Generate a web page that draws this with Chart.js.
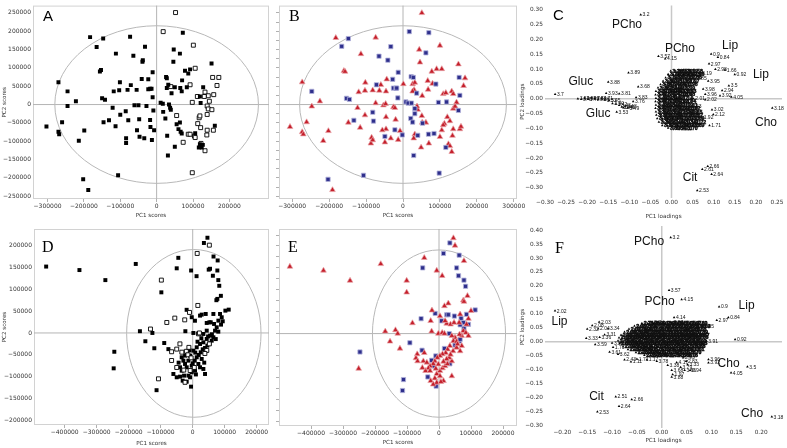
<!DOCTYPE html>
<html><head><meta charset="utf-8">
<script src="https://cdn.jsdelivr.net/npm/chart.js@4.4.1/dist/chart.umd.min.js"></script>
<style>html,body{margin:0;padding:0;background:#fff;width:787px;height:448px;overflow:hidden}canvas{position:absolute;left:0;top:0}</style>
</head><body>
<canvas id="cA" width="787" height="448"></canvas>
<canvas id="cB" width="787" height="448"></canvas>
<canvas id="cC" width="787" height="448"></canvas>
<canvas id="cD" width="787" height="448"></canvas>
<canvas id="cE" width="787" height="448"></canvas>
<canvas id="cF" width="787" height="448"></canvas>
<script>
// ---------- DATA ----------
// tick values
const scoreXTicksA = [-300000,-200000,-100000,0,100000,200000];
const scoreXTicksB = [-300000,-200000,-100000,0,100000,200000,300000];
const scoreYTicksA = [-250000,-200000,-150000,-100000,-50000,0,50000,100000,150000,200000,250000];
const scoreYMarksB = [-250000,-225000,-200000,-175000,-150000,-125000,-100000,-75000,-50000,-25000,0,25000,50000,75000,100000,125000,150000,175000,200000,225000,250000];
const scoreXTicksD = [-400000,-300000,-200000,-100000,0,100000,200000];
const scoreYTicksD = [-200000,-150000,-100000,-50000,0,50000,100000,150000,200000];
const scoreYMarksE = [-200000,-175000,-150000,-125000,-100000,-75000,-50000,-25000,0,25000,50000,75000,100000,125000,150000,175000,200000,225000];
const loadXTicksC = [-0.30,-0.25,-0.20,-0.15,-0.10,-0.05,0,0.05,0.10,0.15,0.20,0.25];
const loadYTicksC = [-0.30,-0.25,-0.20,-0.15,-0.10,-0.05,0,0.05,0.10,0.15,0.20,0.25,0.30];
const loadXTicksF = [-0.20,-0.15,-0.10,-0.05,0,0.05,0.10,0.15,0.20];
const loadYTicksF = [-0.30,-0.25,-0.20,-0.15,-0.10,-0.05,0,0.05,0.10,0.15,0.20,0.25,0.30,0.35,0.40];

// Panel A / B : PCA scores (first data set)
const aFilled = [[-303000,-60000],[-270000,61000],[-245000,36000],[-245000,-4000],[-222000,9000],[-270000,-74000],[-268000,-81000],[-260000,-48000],[-214000,-99000],[-199000,-71000],[-202000,-204000],[-188000,-233000],[-183000,184000],[-165000,157000],[-147000,180000],[-156000,90000],[-153000,94000],[-150000,17000],[-142000,13000],[-146000,-48000],[-131000,-43000],[-121000,-9000],[-118000,36000],[-112000,139000],[-113000,-59000],[-106000,-193000],[-103000,39000],[-101000,61000],[-100000,-28000],[-85000,-18000],[-84000,-92000],[-84000,-105000],[-80000,40000],[-78000,-43000],[-73000,185000],[-71000,53000],[-64000,133000],[-61000,-2000],[-55000,40000],[-54000,-70000],[-50000,-2000],[-47000,-88000],[-48000,-40000],[-41000,70000],[-39000,117000],[-38000,121000],[-34000,-92000],[-32000,158000],[-28000,-4000],[-23000,69000],[-23000,42000],[-18000,43000],[-18000,-42000],[-17000,-61000],[-14000,43000],[-13000,-97000],[-7000,-70000],[-11000,88000],[-11000,20000],[-9000,-16000],[11000,5000],[17000,2000],[18000,-20000],[24000,-38000],[26000,75000],[28000,72000],[32000,54000],[28000,45000],[29000,-85000],[31000,-139000],[34000,0],[37000,-9000],[39000,-14000],[41000,31000],[46000,117000],[47000,150000],[50000,47000],[50000,-115000],[55000,-54000],[60000,-67000],[64000,139000],[65000,45000],[69000,36000],[70000,66000],[72000,196000],[66000,-74000],[69000,-79000],[64000,-49000],[78000,92000],[83000,47000],[87000,85000],[92000,96000],[106000,-78000],[119000,-108000],[124000,-117000],[127000,-110000],[119000,22000],[121000,4000],[128000,47000],[151000,112000],[160000,-58000],[116000,-117000]];
const aOpen = [[52000,251000],[18000,199000],[101000,162000],[106000,99000],[92000,54000],[98000,6000],[39000,49000],[55000,-30000],[73000,-103000],[87000,-81000],[92000,-81000],[104000,-86000],[98000,-186000],[117000,-36000],[119000,-31000],[113000,-52000],[121000,-63000],[112000,22000],[133000,34000],[142000,24000],[145000,9000],[157000,27000],[154000,74000],[166000,52000],[171000,74000],[139000,-4000],[142000,-12000],[152000,-14000],[139000,-27000],[139000,-70000],[138000,-83000],[156000,-70000],[133000,-126000],[122000,-106000],[106000,-90000],[131000,22000]];
const bBlue = [[-148000,180000],[-166000,159000],[-33000,158000],[17000,199000],[70000,196000],[62000,141000],[-65000,132000],[-41000,121000],[-13000,88000],[-28000,69000],[22000,76000],[28000,74000],[-72000,54000],[-26000,45000],[-19000,45000],[-17000,45000],[37000,31000],[89000,56000],[-247000,36000],[-153000,17000],[-145000,14000],[-14000,18000],[8000,7000],[14000,4000],[23000,4000],[32000,-11000],[32000,-25000],[96000,6000],[118000,7000],[152000,74000],[154000,25000],[150000,-16000],[-82000,-21000],[-80000,-45000],[-133000,-43000],[21000,-38000],[26000,-48000],[53000,-51000],[-22000,-69000],[-49000,-87000],[-2000,-83000],[40000,-84000],[69000,-81000],[84000,-79000],[116000,-117000],[29000,-139000],[98000,-187000],[-107000,-193000],[-203000,-204000]];
const bRed = [[51000,250000],[-182000,182000],[-74000,183000],[100000,161000],[-114000,138000],[44000,150000],[46000,115000],[-160000,92000],[-157000,90000],[78000,90000],[91000,97000],[105000,97000],[150000,110000],[168000,72000],[164000,51000],[-273000,61000],[-225000,9000],[-247000,-5000],[-261000,-48000],[-306000,-61000],[-273000,-75000],[-270000,-81000],[-216000,-99000],[-202000,-72000],[-191000,-233000],[-123000,-9000],[-120000,34000],[-103000,38000],[-102000,60000],[-82000,39000],[-64000,38000],[-60000,54000],[-46000,36000],[-44000,69000],[-74000,4000],[-53000,-2000],[-47000,2000],[-26000,-7000],[-22000,-9000],[1000,56000],[26000,56000],[30000,40000],[26000,36000],[32000,60000],[52000,24000],[67000,65000],[68000,41000],[80000,57000],[109000,29000],[116000,32000],[132000,36000],[136000,29000],[145000,6000],[136000,-11000],[141000,-5000],[120000,-34000],[112000,-52000],[109000,-56000],[127000,-45000],[136000,-67000],[134000,-85000],[154000,-67000],[157000,-60000],[-148000,-49000],[-103000,-29000],[-46000,-34000],[-20000,-41000],[-46000,-67000],[-116000,-63000],[-85000,-90000],[-87000,-106000],[-82000,-97000],[-56000,-70000],[-33000,-92000],[-49000,-103000],[-13000,-96000],[-8000,-72000],[32000,-81000],[29000,-92000],[51000,-31000],[52000,-49000],[62000,-49000],[49000,-117000],[70000,-106000],[100000,-88000],[123000,-108000],[127000,-113000],[132000,-129000],[105000,-70000],[40000,-14000],[38000,-5000]];

// Panel D / E : PCA scores (second data set)
const dFilled = [[-458000,152000],[-354000,144000],[-273000,121000],[-178000,158000],[-98000,93000],[-165000,4000],[-148000,-19000],[-126000,0],[-120000,-35000],[-245000,-43000],[-247000,-81000],[-89000,-23000],[-113000,-131000],[-45000,172000],[-50000,148000],[-5000,143000],[12000,130000],[35000,206000],[46000,218000],[54000,147000],[50000,145000],[63000,131000],[65000,175000],[78000,166000],[77000,143000],[80000,121000],[83000,108000],[88000,85000],[77000,78000],[74000,75000],[-19000,53000],[-3000,36000],[7000,28000],[-23000,4000],[-76000,-37000],
 [22900,39700],[28100,42000],[40600,43500],[64600,43500],[85400,43500],[102100,51100],[112500,53400],[43800,22900],[52100,24400],[56300,24400],[80200,28200],[90600,35900],[93800,26700],[88500,19100],[66700,20600],[75000,13000],[69800,5300],[43800,5300],[33300,-2300],[2100,0],[64600,-9900],[59400,-17600],[52100,-23700],[45800,-29000],[38500,-34400],[31300,-37400],[25000,-44300],[18800,-50400],[12500,-55700],[6300,-63400],[0,-69500],[-3100,-74800],[-13500,-97700],[-5200,-122900],[-34400,-55700],[-29200,-63400],[-24000,-71000],[-39600,-78600],[-34400,-86300],[-27100,-97700],[-39600,-100000],[-50000,-101500],[-8300,-101500],[22900,-78600],[33300,-82400],[38500,-93900],[-18800,-44300],[-8300,-51900],[2100,-40500],[12500,-32800],[22900,-25200],[33300,-21400],[43800,-13700],[54200,-6100],[-24000,-51900],[-13500,-63400],[7300,-86300],[17700,-71000],[28100,-59500],[-18800,-78600],[-3100,-90100],[-60400,-93900],[-31300,-109200],[-18800,-111500],
 [60000,-3000],[72000,-14000],[80000,3000],[48000,-8000],[27000,-12000],[15000,-20000],[8000,-45000],[-10000,-40000],[36000,-68000],[10000,-95000],[-44000,-68000]];
const dOpen = [[14000,182000],[52000,201000],[-98000,121000],[-81000,24000],[-56000,34000],[-25000,30000],[-10000,47000],[16000,63000],[-132000,9000],[-40000,-25000],[-50000,-37000],[-66000,-43000],[-66000,-63000],[-50000,-79000],[-107000,-105000],[-24000,-113000],[18000,-2000],[21000,0],[52000,-25000],[44000,-40000],[38000,-47000],[-20000,-42000],[-15000,-50000],[-5000,-57000],[-28000,-85000],[5000,-79000],[-8000,-86000],[-34000,-44000],[-12000,-33000]];
const eBlue = [[34000,207000],[14000,183000],[63000,179000],[-51000,150000],[55000,150000],[61000,132000],[78000,122000],[83000,108000],[-12000,46000],[-56000,34000],[8000,29000],[24000,43000],[29000,43000],[48000,40000],[69000,35000],[76000,25000],[78000,12000],[86000,44000],[92000,21000],[113000,54000],[32000,0],[50000,-26000],[64000,-17000],[66000,-13000],[17000,-34000],[-10000,-51000],[-23000,-61000],[-18000,-74000],[-53000,-38000],[-91000,-21000],[-247000,-42000],[34000,-69000],[-111000,-105000],[-35000,-99000],[-114000,-130000],[-9000,-120000],[66000,20000]];
const eRed = [[-466000,153000],[-361000,144000],[-278000,121000],[-182000,159000],[-46000,173000],[-7000,144000],[10000,132000],[45000,218000],[50000,201000],[78000,166000],[-101000,121000],[-101000,94000],[89000,86000],[76000,76000],[78000,73000],[100000,52000],[29000,69000],[17000,63000],[-22000,53000],[-26000,29000],[-83000,24000],[-168000,5000],[-136000,8000],[-129000,0],[-153000,-18000],[-122000,-34000],[-251000,-80000],[-23000,5000],[-2000,0],[10000,2000],[17000,0],[24000,23000],[36000,21000],[47000,25000],[63000,25000],[66000,44000],[76000,6000],[84000,2000],[92000,-5000],[71000,-5000],[64000,-2000],[50000,-9000],[40000,-5000],[45000,-17000],[55000,-18000],[34000,-28000],[27000,-36000],[21000,-44000],[11000,-47000],[3000,-51000],[-5000,-55000],[-13000,-63000],[-18000,-69000],[-28000,-74000],[-33000,-79000],[-42000,-85000],[-46000,-44000],[-68000,-47000],[-72000,-56000],[-67000,-63000],[-49000,-63000],[-52000,-78000],[-28000,-85000],[-7000,-92000],[3000,-85000],[11000,-79000],[19000,-74000],[26000,-69000],[40000,-63000],[32000,-55000],[3000,-97000],[-13000,-102000],[-26000,-108000],[-7000,-112000],[-18000,-116000],[14000,-108000],[40000,-97000],[55000,-32000],[66000,-40000],[71000,-28000],[86000,21000],[92000,34000],[19000,29000],[3000,40000],
 [58000,-24000],[44000,-40000],[36000,-48000],[24000,-58000],[14000,-64000],[-2000,-70000],[-10000,-80000],[-38000,-66000],[6000,-110000]];

// Panel C : PC loadings (first data set) [x, y, label]
const cLabeled = [[-0.073,0.284,"3.2"],[-0.031,0.1435,"3.57"],[-0.015,0.135,"4.15"],[0.094,0.151,"0.9"],[0.110,0.140,"0.84"],[0.089,0.118,"2.97"],[0.104,0.100,"2.98"],[0.127,0.097,"1.66"],[0.150,0.082,"0.92"],[-0.102,0.088,"3.89"],[-0.150,0.057,"3.88"],[-0.079,0.041,"3.68"],[-0.276,0.015,"3.7"],[-0.155,0.019,"3.93"],[-0.124,0.017,"3.81"],[-0.084,0.004,"3.83"],[-0.091,-0.009,"3.76"],[-0.114,-0.030,"3.41"],[-0.130,-0.045,"3.53"],[0.239,-0.031,"3.18"],[0.086,-0.228,"2.66"],[0.073,-0.238,"2.61"],[0.095,-0.255,"2.64"],[0.061,-0.310,"2.53"],[0.136,0.044,"3.5"],[0.120,0.028,"2.94"],[0.115,0.010,"3.92"],[0.142,0.006,"4.05"],[0.080,0.015,"3.96"],[0.075,0.033,"3.98"],[0.056,0.068,"3.85"],[0.068,0.087,"3.19"],[0.087,0.060,"3.95"],[0.080,-0.003,"2.02"],[0.052,0.000,"2.01"],[0.044,-0.026,"1.63"],[0.096,-0.037,"3.02"],[0.099,-0.053,"2.12"],[0.072,-0.064,"1.92"],[0.090,-0.090,"1.71"]];
const cGluc = [[-0.222,0.000,"3.50"],[-0.214,-0.002,"3.47"],[-0.206,0.002,"3.90"],[-0.198,-0.001,"3.72"],[-0.190,0.003,"3.74"],[-0.182,0.001,"3.84"],[-0.174,-0.001,"3.86"],[-0.166,0.000,"3.71"],[-0.158,-0.004,"3.51"],[-0.148,-0.006,"3.45"],[-0.140,-0.016,"3.40"],[-0.132,-0.018,"3.42"],[-0.124,-0.022,"3.43"],[-0.118,-0.028,"3.44"],[-0.110,-0.026,"3.48"],[-0.104,-0.031,"3.49"]];
const cBlob = [
 [0.094,[-0.002,0.010,0.022,0.034,0.046],"3.26 3.65 1.30 3.19 1.58"],
 [0.083,[-0.008,0.004,0.016,0.028,0.040,0.050],"3.73 2.23 0.88 3.64 1.28 2.96"],
 [0.071,[-0.014,-0.002,0.010,0.022,0.034,0.044],"3.79 1.33 3.62 2.05 1.27 0.86"],
 [0.060,[-0.020,-0.008,0.004,0.016,0.028,0.038],"3.80 2.07 3.61 1.35 2.27 3.97"],
 [0.048,[-0.026,-0.014,-0.002,0.010,0.022,0.034],"3.84 3.72 2.46 1.39 4.11 0.96"],
 [0.037,[-0.032,-0.020,-0.008,0.004,0.016,0.028],"3.86 3.75 2.44 1.41 4.12 3.99"],
 [0.025,[-0.037,-0.025,-0.013,-0.001,0.011,0.023,0.031],"3.87 3.78 2.43 1.45 4.13 1.06 2.93"],
 [0.014,[-0.038,-0.026,-0.014,-0.002,0.010,0.022,0.028],"3.45 3.77 2.40 1.47 4.16 1.09 3.03"],
 [0.002,[-0.037,-0.025,-0.013,-0.001,0.011,0.023],"3.48 3.74 2.38 1.49 4.17 1.14"],
 [-0.009,[-0.038,-0.026,-0.014,-0.002,0.010,0.022,0.030],"3.46 3.71 2.36 1.51 4.19 1.17 3.04"],
 [-0.021,[-0.037,-0.025,-0.013,-0.001,0.011,0.023,0.035],"3.43 3.69 2.34 1.53 4.21 1.19 2.11"],
 [-0.032,[-0.038,-0.026,-0.014,-0.002,0.010,0.022,0.034,0.040],"3.42 3.67 2.32 1.55 4.23 1.22 2.10 1.62"],
 [-0.044,[-0.037,-0.025,-0.013,-0.001,0.011,0.023,0.035,0.045],"3.39 3.63 2.30 1.57 4.25 1.24 2.09 1.65"],
 [-0.055,[-0.036,-0.024,-0.012,0.000,0.012,0.024,0.036,0.047],"3.37 3.60 2.28 1.59 4.27 1.26 2.08 1.67"],
 [-0.067,[-0.034,-0.022,-0.010,0.002,0.014,0.026,0.038,0.050],"3.35 3.58 2.26 1.61 4.29 1.31 1.93 1.69"],
 [-0.078,[-0.030,-0.018,-0.006,0.006,0.018,0.030,0.042,0.054],"3.34 3.56 2.24 1.64 4.31 1.34 1.91 1.72"],
 [-0.090,[-0.022,-0.010,0.002,0.014,0.026,0.038,0.050],"3.32 3.55 2.22 1.68 4.33 1.36 1.89"],
 [-0.099,[-0.008,0.006,0.020,0.034],"3.30 3.54 2.20 1.70"]
];
const cNames = [["PCho",-0.1055,0.250],["PCho",0.020,0.170],["Lip",0.139,0.180],["Lip",0.212,0.081],["Gluc",-0.215,0.057],["Gluc",-0.174,-0.049],["Cho",0.224,-0.082],["Cit",0.044,-0.267]];

// Panel F : PC loadings (second data set)
const fLabeled = [[0.018,0.374,"3.2"],[0.0147,0.1845,"3.57"],[0.040,0.151,"4.15"],[0.1154,0.125,"0.9"],[0.134,0.0865,"0.84"],[0.1107,0.077,"2.97"],[-0.2148,0.1105,"2.02"],[0.0248,0.0865,"4.14"],[0.020,0.0675,"3.98"],[-0.019,0.0675,"2.7"],[-0.126,0.070,"2.03"],[-0.140,0.058,"2.08"],[-0.150,0.045,"2.32"],[-0.128,0.046,"2.04"],[-0.108,0.046,"3.34"],[-0.152,0.012,"3.33"],[-0.125,0.016,"3.36"],[-0.134,-0.010,"3.59"],[-0.105,-0.037,"3.61"],[-0.098,-0.020,"1.73"],[-0.075,-0.065,"2.43"],[-0.062,-0.072,"1.11"],[-0.115,0.025,"3.31"],[-0.100,-0.005,"3.58"],[-0.088,-0.045,"3.62"],[-0.050,-0.062,"1.71"],[0.1476,0.0075,"0.92"],[0.1724,-0.0905,"3.5"],[0.1395,-0.112,"4.05"],[0.2215,-0.270,"3.18"],[0.094,-0.0643,"3.96"],[0.094,-0.076,"3.92"],[0.090,0.002,"3.91"],[0.082,0.055,"1.55"],[-0.0926,-0.198,"2.51"],[-0.0604,-0.208,"2.66"],[-0.086,-0.232,"2.64"],[-0.1296,-0.252,"2.53"],[0.020,-0.103,"3.68"],[0.022,-0.118,"1.97"],[0.020,-0.127,"3.88"],[0.038,-0.092,"3.79"],[0.046,-0.103,"3.66"],[0.057,-0.103,"0.94"],[0.049,-0.070,"2.83"],[0.052,-0.082,"3.33"],[0.043,-0.058,"2.93"],[0.030,-0.075,"4.17"],[0.012,-0.085,"3.38"],[-0.010,-0.070,"3.78"],[-0.030,-0.065,"1.17"]];
const fBlob = [
 [0.066,[-0.040,-0.028,-0.016,-0.004,0.008,0.020,0.032,0.044,0.056,0.068],"2.71 2.98 3.99 4.13 2.95 3.04 1.55 1.05 2.97 1.60"],
 [0.056,[-0.055,-0.043,-0.031,-0.019,-0.007,0.005,0.017,0.029,0.041,0.053,0.065,0.074],"2.05 2.72 3.97 4.12 2.93 3.05 1.56 1.06 2.96 1.61 1.65 1.59"],
 [0.045,[-0.066,-0.054,-0.042,-0.030,-0.018,-0.006,0.006,0.018,0.030,0.042,0.054,0.066],"2.07 2.74 3.95 4.11 2.91 3.06 1.57 1.07 2.94 1.62 1.66 1.58"],
 [0.035,[-0.075,-0.063,-0.051,-0.039,-0.027,-0.015,-0.003,0.009,0.021,0.033,0.045,0.057,0.069],"2.09 2.76 3.94 4.10 2.89 3.07 1.58 1.08 2.92 1.63 1.67 1.57 0.89"],
 [0.024,[-0.082,-0.070,-0.058,-0.046,-0.034,-0.022,-0.010,0.002,0.014,0.026,0.038,0.050,0.062,0.072],"2.11 2.78 3.93 4.09 2.87 3.08 1.59 1.09 2.90 1.64 1.68 1.56 0.88 0.87"],
 [0.014,[-0.086,-0.074,-0.062,-0.050,-0.038,-0.026,-0.014,-0.002,0.010,0.022,0.034,0.046,0.058,0.070],"2.13 2.80 3.92 4.08 2.85 3.09 1.60 1.10 2.88 1.65 1.69 1.55 0.87 0.86"],
 [0.003,[-0.088,-0.076,-0.064,-0.052,-0.040,-0.028,-0.016,-0.004,0.008,0.020,0.032,0.044,0.056,0.066],"2.15 2.82 3.91 4.07 2.83 3.10 1.61 1.11 2.86 1.66 1.70 1.54 3.91 3.90"],
 [-0.007,[-0.085,-0.073,-0.061,-0.049,-0.037,-0.025,-0.013,-0.001,0.011,0.023,0.035,0.047,0.059,0.068],"2.17 2.84 3.90 4.06 2.81 3.11 1.62 1.12 2.84 1.67 1.71 1.53 3.89 3.93"],
 [-0.018,[-0.078,-0.066,-0.054,-0.042,-0.030,-0.018,-0.006,0.006,0.018,0.030,0.042,0.054,0.064],"2.19 2.86 3.89 4.04 2.79 3.12 1.63 1.13 2.82 1.68 1.72 1.52 3.88"],
 [-0.028,[-0.068,-0.056,-0.044,-0.032,-0.020,-0.008,0.004,0.016,0.028,0.040,0.052,0.062],"2.21 2.88 3.88 4.03 2.77 3.13 1.64 1.14 2.80 1.69 1.73 1.51"],
 [-0.039,[-0.052,-0.040,-0.028,-0.016,-0.004,0.008,0.020,0.032,0.044,0.056],"2.23 2.90 3.87 4.02 2.75 3.14 1.65 1.15 2.78 1.70"],
 [-0.049,[-0.035,-0.023,-0.011,0.001,0.013,0.025,0.037,0.049],"2.25 2.92 3.86 4.01 2.73 3.15 1.66 1.16"]
];
const fNames = [["PCho",-0.0256,0.359],["PCho",-0.0044,0.144],["Lip",0.1707,0.1296],["Lip",-0.2058,0.0703],["Cho",0.1345,-0.0804],["Cit",-0.1313,-0.199],["Cho",0.1818,-0.260]];

// ---------- RENDERING ----------
const TICKFONT = "'DejaVu Sans', sans-serif";
function fmtInt(v){ if (Math.abs(v) < 1) return '0'; return (v < 0 ? '\u2212' : '') + Math.abs(Math.round(v)); }
function fmtDec(v){ const r = Math.round(v*100)/100; if (Math.abs(r) < 1e-9) return '0.00'; return (r < 0 ? '\u2212' : '') + Math.abs(r).toFixed(2); }
const pts = arr => arr.map(p => ({x: p[0], y: p[1]}));
function labeledTable(list) {
  return {data: list.map(p => ({x: p[0], y: p[1]})), labels: list.map(p => p[2])};
}
function blobTable(blob) {
  const data = [], labels = [];
  blob.forEach(row => { const ls = row[2].split(' '); row[1].forEach((x, i) => { data.push({x: x, y: row[0]}); labels.push(ls[i]); }); });
  return {data, labels};
}

function overlay(P) {
  return {
    id: 'overlay',
    beforeDatasetsDraw(chart) {
      const {ctx, chartArea: a, scales: {x, y}} = chart;
      ctx.save();
      if (P.frame) { ctx.strokeStyle = '#d2d2d2'; ctx.lineWidth = 1; ctx.strokeRect(a.left + 0.5, a.top + 0.5, a.width - 1, a.height - 1); }
      ctx.strokeStyle = P.zeroColor; ctx.lineWidth = P.zeroWidth;
      const x0 = x.getPixelForValue(0), y0 = y.getPixelForValue(0);
      ctx.beginPath(); ctx.moveTo(x0, a.top); ctx.lineTo(x0, a.bottom); ctx.moveTo(a.left, y0); ctx.lineTo(a.right, y0); ctx.stroke();
      if (P.ellipse) {
        const [cx, cy, rx, ry] = P.ellipse;
        const px = x.getPixelForValue(cx), py = y.getPixelForValue(cy);
        const prx = Math.abs(x.getPixelForValue(cx + rx) - px), pry = Math.abs(y.getPixelForValue(cy + ry) - py);
        ctx.strokeStyle = '#b8b8b8'; ctx.lineWidth = 1;
        ctx.beginPath(); ctx.ellipse(px, py, prx, pry, 0, 0, Math.PI * 2); ctx.stroke();
      }
      ctx.restore();
    },
    afterDatasetsDraw(chart) {
      const {ctx, scales: {x, y}} = chart;
      ctx.save();
      chart.data.datasets.forEach((ds, i) => {
        if (!ds.pointLabels) return;
        ctx.font = ds.labelFont; ctx.fillStyle = '#111'; ctx.strokeStyle = '#111'; ctx.lineWidth = ds.labelStroke || 0;
        ctx.textBaseline = 'middle'; ctx.textAlign = 'left';
        chart.getDatasetMeta(i).data.forEach((el, j) => {
          ctx.fillText(ds.pointLabels[j], el.x + 1.8, el.y + 0.3);
          if (ds.labelStroke) ctx.strokeText(ds.pointLabels[j], el.x + 1.8, el.y + 0.3);
        });
      });
      if (P.names) {
        ctx.font = "12px 'Liberation Sans', Arial, sans-serif"; ctx.fillStyle = '#111'; ctx.textAlign = 'center'; ctx.textBaseline = 'middle';
        P.names.forEach(n => ctx.fillText(n[0], x.getPixelForValue(n[1]), y.getPixelForValue(n[2])));
      }
      const L = P.letter;
      ctx.font = L.font; ctx.fillStyle = '#000'; ctx.textAlign = 'left'; ctx.textBaseline = 'alphabetic';
      ctx.fillText(L.text, L.x, L.y);
      ctx.restore();
    }
  };
}

function makePanel(id, P) {
  const pad = {left: P.area.l - P.yW, top: P.area.t, right: 787 - P.area.r, bottom: 448 - P.area.b - P.xH};
  const tfs = 5.6, lh = tfs * 1.2;
  const xBottom = P.area.b + P.xH;
  const yLeft = P.area.l - P.yW;
  const scaleTitle = (text, padObj) => ({display: !!text, text: text || '', color: '#333', font: {family: TICKFONT, size: tfs}, padding: padObj});
  new Chart(document.getElementById(id), {
    type: 'scatter',
    data: {datasets: P.datasets},
    options: {
      responsive: false, animation: false, devicePixelRatio: 1, events: [],
      layout: {padding: pad},
      plugins: {legend: {display: false}, tooltip: {enabled: false}},
      scales: {
        x: {
          type: 'linear', position: 'bottom', min: P.xr[0], max: P.xr[1],
          afterFit(s) { s.height = P.xH; },
          afterBuildTicks(s) { s.ticks = P.xTicks.map(v => ({value: v})); },
          ticks: {autoSkip: false, maxRotation: 0, minRotation: 0, color: '#333',
                  font: {family: TICKFONT, size: P.tickSize}, padding: P.xTickPad, callback: P.xFmt},
          grid: {display: P.xMarks, drawOnChartArea: false, drawTicks: P.xMarks, tickLength: 3, color: '#b0b0b0'},
          border: {display: false},
          title: scaleTitle(P.xTitle, {top: 0, bottom: Math.max(0, xBottom - P.xTitleY - lh / 2)})
        },
        y: {
          type: 'linear', position: 'left', min: P.yr[0], max: P.yr[1],
          afterFit(s) { s.width = P.yW; },
          afterBuildTicks(s) { s.ticks = P.yTicks.map(v => ({value: v})); },
          ticks: {autoSkip: false, color: '#333',
                  font: {family: TICKFONT, size: P.tickSize}, padding: 2, callback: P.yFmt},
          grid: {display: P.yMarks, drawOnChartArea: false, drawTicks: P.yMarks, tickLength: 3, color: '#b0b0b0'},
          border: {display: false},
          title: scaleTitle(P.yTitle, {top: Math.max(0, (P.yTitleX || 0) - yLeft - lh / 2), bottom: 0})
        }
      }
    },
    plugins: [overlay(P)]
  });
}

const SANS = "15px 'Liberation Sans', Arial, sans-serif";
const SERIF = "16px 'Liberation Serif', 'Times New Roman', serif";
const blank = () => '';

const sq = (data, fill) => ({data: pts(data), pointStyle: 'rect', pointRadius: 2.8, backgroundColor: fill ? '#000' : '#fff', borderColor: '#000', borderWidth: fill ? 0 : 0.9});
const blueSq = data => ({data: pts(data), pointStyle: 'rect', pointRadius: 3.0, backgroundColor: '#2e2f8c', borderColor: '#b4b4dc', borderWidth: 0.8});
const redTri = data => ({data: pts(data), pointStyle: 'triangle', pointRadius: 3.3, backgroundColor: '#c41f2b', borderColor: '#eaa6aa', borderWidth: 0.7});
const loadDs = (t, font, stroke) => ({data: t.data, pointLabels: t.labels, labelFont: font, labelStroke: stroke, pointStyle: 'triangle', pointRadius: 1.5, backgroundColor: '#000', borderWidth: 0});
const LBL = "5px 'Liberation Sans', Arial, sans-serif";
const BLOB = "bold 5.2px 'Liberation Sans', Arial, sans-serif";

const common = {tickSize: 6, xTickPad: 1, zeroColor: '#b4b4b4', zeroWidth: 1, frame: true, xMarks: true};

makePanel('cA', Object.assign({}, common, {
  area: {l: 33, t: 3, r: 269, b: 199}, yW: 33, xH: 25,
  xr: [-340000, 309000], yr: [-257700, 270000], xTicks: scoreXTicksA, yTicks: scoreYTicksA,
  xFmt: fmtInt, yFmt: fmtInt, yMarks: false,
  xTitle: 'PC1 scores', xTitleY: 216, yTitle: 'PC2 scores', yTitleX: 5,
  ellipse: [0, 0, 280000, 215000],
  letter: {text: 'A', x: 43, y: 21, font: SANS},
  datasets: [sq(aFilled, true), sq(aOpen, false)]
}));
makePanel('cB', Object.assign({}, common, {
  area: {l: 279, t: 3, r: 517, b: 199}, yW: 4, xH: 25,
  xr: [-335800, 308700], yr: [-257700, 270000], xTicks: scoreXTicksB, yTicks: scoreYMarksB,
  xFmt: fmtInt, yFmt: blank, yMarks: true,
  xTitle: 'PC1 scores', xTitleY: 216, yTitle: '',
  ellipse: [0, 0, 280000, 215000],
  letter: {text: 'B', x: 289, y: 21, font: SERIF},
  datasets: [blueSq(bBlue), redTri(bRed)]
}));
makePanel('cC', Object.assign({}, common, {
  area: {l: 545, t: 2, r: 782, b: 198}, yW: 26, xH: 26, tickSize: 5.8, frame: false, xMarks: false,
  zeroColor: '#c8c8c8', zeroWidth: 1.5,
  xr: [-0.30, 0.262], yr: [-0.335, 0.315], xTicks: loadXTicksC, yTicks: loadYTicksC,
  xFmt: fmtDec, yFmt: fmtDec, yMarks: false,
  xTitle: 'PC1 loadings', xTitleY: 217, yTitle: 'PC2 loadings', yTitleX: 523,
  names: cNames,
  letter: {text: 'C', x: 553, y: 20, font: SANS},
  datasets: [loadDs(blobTable(cBlob), BLOB, 0.45), loadDs(labeledTable(cLabeled.concat(cGluc)), LBL, 0)]
}));
makePanel('cD', Object.assign({}, common, {
  area: {l: 34, t: 229, r: 269, b: 425}, yW: 34, xH: 23,
  xr: [-496000, 238400], yr: [-210700, 238000], xTicks: scoreXTicksD, yTicks: scoreYTicksD,
  xFmt: fmtInt, yFmt: fmtInt, yMarks: false,
  xTitle: 'PC1 scores', xTitleY: 444, yTitle: 'PC2 scores', yTitleX: 5,
  ellipse: [3500, -1000, 210000, 192000],
  letter: {text: 'D', x: 42, y: 252, font: SERIF},
  datasets: [sq(dOpen, false), sq(dFilled, true)]
}));
makePanel('cE', Object.assign({}, common, {
  area: {l: 279, t: 229, r: 517, b: 426}, yW: 4, xH: 22,
  xr: [-500000, 243750], yr: [-211000, 238800], xTicks: scoreXTicksD, yTicks: scoreYMarksE,
  xFmt: fmtInt, yFmt: blank, yMarks: true,
  xTitle: 'PC1 scores', xTitleY: 443, yTitle: '',
  ellipse: [0, 0, 208000, 191000],
  letter: {text: 'E', x: 288, y: 252, font: SERIF},
  datasets: [redTri(eRed), blueSq(eBlue)]
}));
makePanel('cF', Object.assign({}, common, {
  area: {l: 545, t: 226, r: 782, b: 428}, yW: 26, xH: 20, tickSize: 5.8, frame: false, xMarks: false,
  zeroColor: '#c8c8c8', zeroWidth: 1.5,
  xr: [-0.235, 0.242], yr: [-0.31, 0.415], xTicks: loadXTicksF, yTicks: loadYTicksF,
  xFmt: fmtDec, yFmt: fmtDec, yMarks: false,
  xTitle: 'PC1 loadings', xTitleY: 441, yTitle: 'PC2 loadings', yTitleX: 523,
  names: fNames,
  letter: {text: 'F', x: 555, y: 253, font: SERIF},
  datasets: [loadDs(blobTable(fBlob), BLOB, 0.6), loadDs(labeledTable(fLabeled), LBL, 0)]
}));
</script>
</body></html>
